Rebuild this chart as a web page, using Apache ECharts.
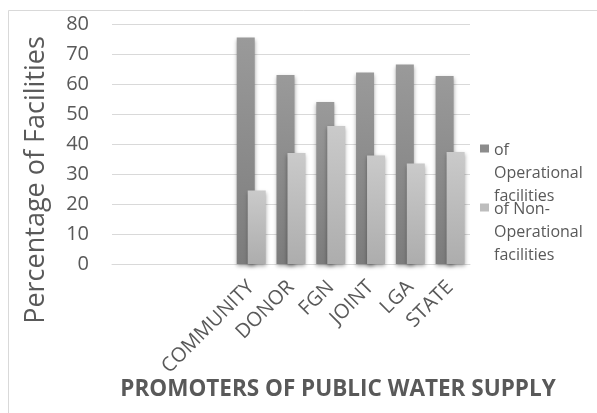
<!DOCTYPE html>
<html>
<head>
<meta charset="utf-8">
<script src="https://cdn.jsdelivr.net/npm/echarts@6/dist/echarts.min.js"></script>
<style>
  html, body { margin: 0; padding: 0; background: #fff; }
  #chart { width: 597px; height: 413px; }
</style>
</head>
<body>
<div id="chart"></div>
<script>
// Promoters of public water supply (first three slots left empty)
const categories = ['', '', '', 'COMMUNITY', 'DONOR', 'FGN', 'JOINT', 'LGA', 'STATE'];
const operational = [null, null, null, 75.5, 63, 54, 63.8, 66.5, 62.7];
const nonOperational = [null, null, null, 24.5, 37, 46, 36.2, 33.5, 37.3];
const yTicks = { min: 0, max: 80, interval: 10 };

const seriesNames = ['of Operational facilities', 'of Non-Operational facilities'];
const legendText = {
  'of Operational facilities': 'of\nOperational\nfacilities',
  'of Non-Operational facilities': 'of Non-\nOperational\nfacilities'
};

const FONT = '"Open Sans", Lato, sans-serif';
const TEXT = '#595959';
const GRID = '#d9d9d9';

function grad(top, bottom) {
  return new echarts.graphic.LinearGradient(0, 0, 0, 1, [
    { offset: 0, color: top },
    { offset: 1, color: bottom }
  ]);
}

// square marker sitting at the top of a tall three-line legend item
const legendIcon = 'path://M0,4h9v8h-9z M0,0h0.01v0.01h-0.01z M0,66h0.01v0.01h-0.01z';

function legendFor(name, top, color) {
  return {
    data: [name],
    left: 480,
    top: top,
    padding: 0,
    orient: 'vertical',
    icon: legendIcon,
    itemWidth: 9,
    itemHeight: 66,
    itemStyle: { color: color },
    selectedMode: false,
    formatter: n => legendText[n],
    textStyle: { fontFamily: FONT, fontSize: 16, color: TEXT, lineHeight: 23 }
  };
}

const chart = echarts.init(document.getElementById('chart'));
chart.setOption({
  animation: false,
  backgroundColor: '#fff',
  grid: { left: 112, right: 127, top: 24, bottom: 149 },
  legend: [
    legendFor(seriesNames[0], 139, '#8c8c8c'),
    legendFor(seriesNames[1], 198, '#bdbdbd')
  ],
  xAxis: {
    type: 'category',
    data: categories,
    axisTick: { show: false },
    axisLine: { show: true, lineStyle: { color: GRID, width: 1 } },
    axisLabel: {
      interval: 0,
      rotate: 45,
      margin: 20,
      fontFamily: FONT,
      fontSize: 20,
      color: TEXT
    }
  },
  yAxis: {
    type: 'value',
    min: yTicks.min,
    max: yTicks.max,
    interval: yTicks.interval,
    name: 'Percentage of Facilities',
    nameLocation: 'middle',
    nameGap: 62,
    nameTextStyle: { fontFamily: FONT, fontSize: 27, color: TEXT, padding: [0, 72, 0, 0] },
    axisLine: { show: false },
    axisTick: { show: false },
    splitLine: { lineStyle: { color: GRID, width: 1 } },
    axisLabel: { fontFamily: FONT, fontSize: 20, color: TEXT, margin: 23 }
  },
  series: [
    {
      name: seriesNames[0],
      type: 'bar',
      data: operational,
      barWidth: 18,
      barGap: '-39%',
      itemStyle: {
        color: grad('#9a9a9a', '#7c7c7c'),
        shadowColor: 'rgba(0,0,0,0.35)',
        shadowBlur: 4,
        shadowOffsetY: 2
      }
    },
    {
      name: seriesNames[1],
      type: 'bar',
      data: nonOperational,
      barWidth: 18,
      itemStyle: {
        color: grad('#cacaca', '#adadad'),
        shadowColor: 'rgba(0,0,0,0.35)',
        shadowBlur: 4,
        shadowOffsetY: 2
      }
    }
  ],
  graphic: [
    {
      type: 'rect',
      silent: true,
      shape: { x: 8.5, y: 10.5, width: 620, height: 420 },
      style: { fill: null, stroke: GRID, lineWidth: 1 }
    },
    {
      type: 'text',
      x: 338,
      y: 390,
      style: {
        text: 'PROMOTERS OF PUBLIC WATER SUPPLY',
        fontFamily: FONT,
        fontWeight: 'bold',
        fontSize: 22.5,
        fill: TEXT,
        align: 'center',
        verticalAlign: 'middle'
      }
    }
  ]
});
</script>
</body>
</html>
